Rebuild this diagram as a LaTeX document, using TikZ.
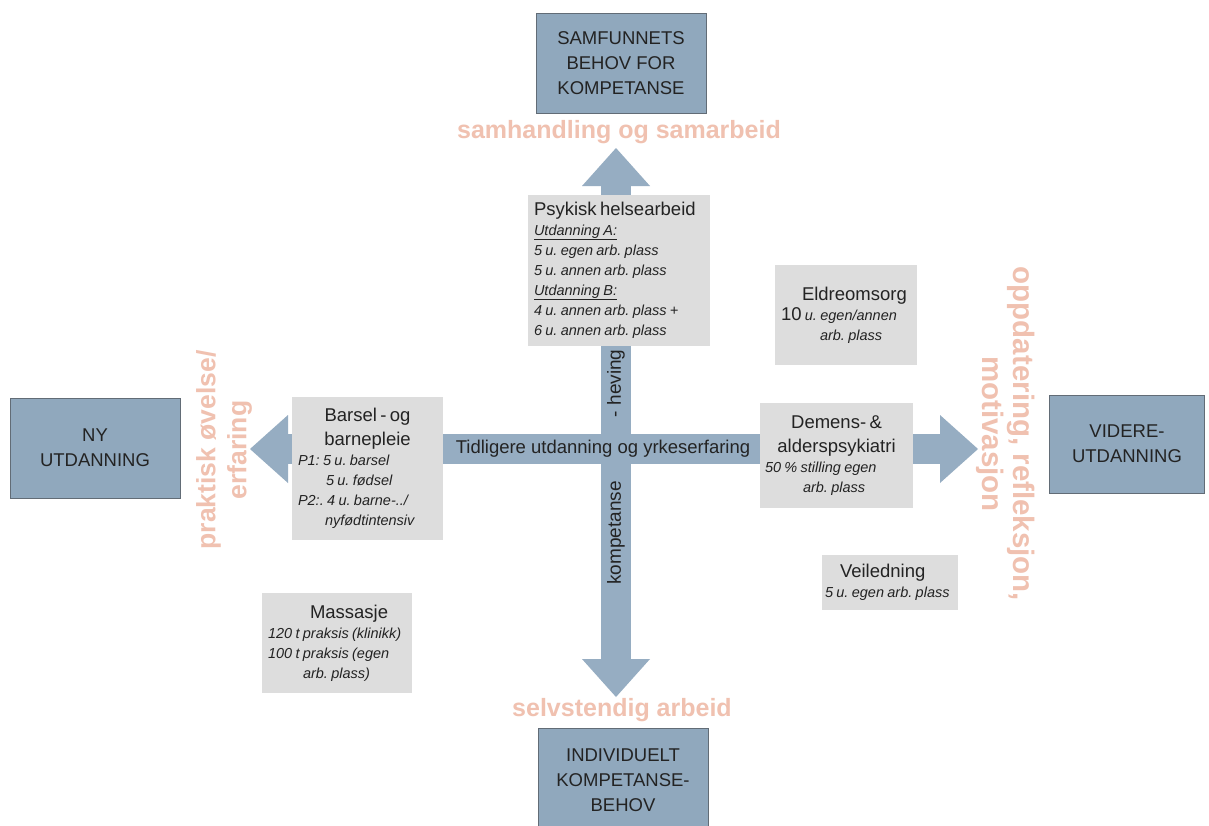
\documentclass[tikz,border=0pt]{standalone}
\usepackage{fontspec}
\setmainfont{Liberation Sans}
\usepackage{tikz}
\usetikzlibrary{arrows.meta,positioning}
\setlength{\parindent}{0pt}
\frenchspacing

\definecolor{hubfill}{RGB}{144,168,189}
\definecolor{hubline}{RGB}{98,108,118}
\definecolor{axisblue}{RGB}{150,173,194}
\definecolor{cellgray}{RGB}{221,221,221}
\definecolor{goalpink}{RGB}{240,193,176}
\definecolor{txtdark}{RGB}{35,35,35}

\newcommand{\txtbig}{\fontsize{18.5}{24}\selectfont}
\newcommand{\txtsmall}{\fontsize{14.5}{20}\selectfont\itshape}

\begin{document}
\begin{tikzpicture}[
  x=1pt, y=-1pt,
  hub/.style={draw=hubline, fill=hubfill, align=center, text=txtdark,
    font=\fontsize{18.5}{25}\selectfont, minimum width=170pt, minimum height=100pt},
  cell/.style={fill=cellgray, text=txtdark, inner xsep=6pt, inner ysep=3pt,
    execute at begin node=\raggedright},
  goal/.style={text=goalpink, align=center, font=\bfseries\fontsize{25}{31}\selectfont},
  axis/.style={draw=axisblue, line width=30pt,
    {Triangle[length=38pt,width=68pt,line width=0pt]}-{Triangle[length=38pt,width=68pt,line width=0pt]}}
]
\useasboundingbox[fill=white] (0,0) rectangle (1209,825);

% the two axes
\coordinate (N) at (616,148);
\coordinate (S) at (616,697);
\coordinate (W) at (250,449);
\coordinate (E) at (978,449);
\draw[axis] (S) -- (N);
\draw[axis] (W) -- (E);

% outcome boxes
\node[hub] (society) at (621,63) {SAMFUNNETS\\BEHOV FOR\\KOMPETANSE};
\node[hub] (newedu) at (95,448) {NY\\UTDANNING};
\node[hub, minimum width=155pt, minimum height=98pt] (further) at (1127,444) {VIDERE-\\UTDANNING};
\node[hub, minimum height=104pt] (individ) at (623,780) {INDIVIDUELT\\KOMPETANSE-\\BEHOV};

% directions
\node[goal] (collab) at (619,132) {samhandling og samarbeid};
\node[goal] (selfwork) at (622,710) {selvstendig arbeid};
\node[goal, rotate=90, font=\bfseries\fontsize{26.5}{31}\selectfont] (practice) at (224,450)
  {praktisk øvelse/\\erfaring};
\node[goal, rotate=-90, font=\bfseries\fontsize{29.5}{31}\selectfont] (update) at (1006,434)
  {oppdatering, refleksjon,\\motivasjon};

% axis labels
\node[text=txtdark, font=\fontsize{19}{22}\selectfont, rotate=90] (raise) at (616,467)
  {kompetanse\hspace{64pt}- heving};
\node[text=txtdark, font=\txtbig, inner sep=0pt] (prior) at (603,449)
  {Tidligere utdanning og yrkeserfaring};

% practice places
\node[cell, minimum width=182pt, minimum height=151pt, text width=170pt] (psych) at (619,270)
  {{\txtbig Psykisk helsearbeid\par}
   \txtsmall\underline{Utdanning A:}\\5 u. egen arb. plass\\5 u. annen arb. plass\\
   \underline{Utdanning B:}\\4 u. annen arb. plass +\\6 u. annen arb. plass\par};
\node[cell, minimum width=142pt, minimum height=100pt, text width=130pt] (elder) at (846,315)
  {{\txtbig\hspace*{21pt}Eldreomsorg\par}
   \txtsmall{\upshape\txtbig 10} u. egen/annen\\\hspace*{39pt}arb. plass\par};
\node[cell, minimum width=151pt, minimum height=143pt, text width=139pt] (birth) at (367.5,468.5)
  {{\centering\txtbig Barsel - og\\barnepleie\par}
   \txtsmall P1: 5 u. barsel\\\hspace*{28pt}5 u. fødsel\\P2:. 4 u. barne-../\\\hspace*{27pt}nyfødtintensiv\par};
\node[cell, minimum width=153pt, minimum height=105pt, text width=143pt, inner xsep=5pt] (dementia) at (836.5,455.5)
  {{\centering\txtbig Demens- \&\\alderspsykiatri\par}
   \txtsmall 50 \% stilling egen\\\hspace*{38pt}arb. plass\par};
\node[cell, minimum width=150pt, minimum height=100pt, text width=138pt] (massage) at (337,643)
  {{\txtbig\hspace*{42pt}Massasje\par}
   \txtsmall 120 t praksis (klinikk)\\100 t praksis (egen\\\hspace*{35pt}arb. plass)\par};
\node[cell, minimum width=136pt, minimum height=55pt, text width=130pt, inner xsep=3pt] (guidance) at (890,582.5)
  {{\txtbig\hspace*{15pt}Veiledning\par}
   \txtsmall 5 u. egen arb. plass\par};
\end{tikzpicture}
\end{document}
